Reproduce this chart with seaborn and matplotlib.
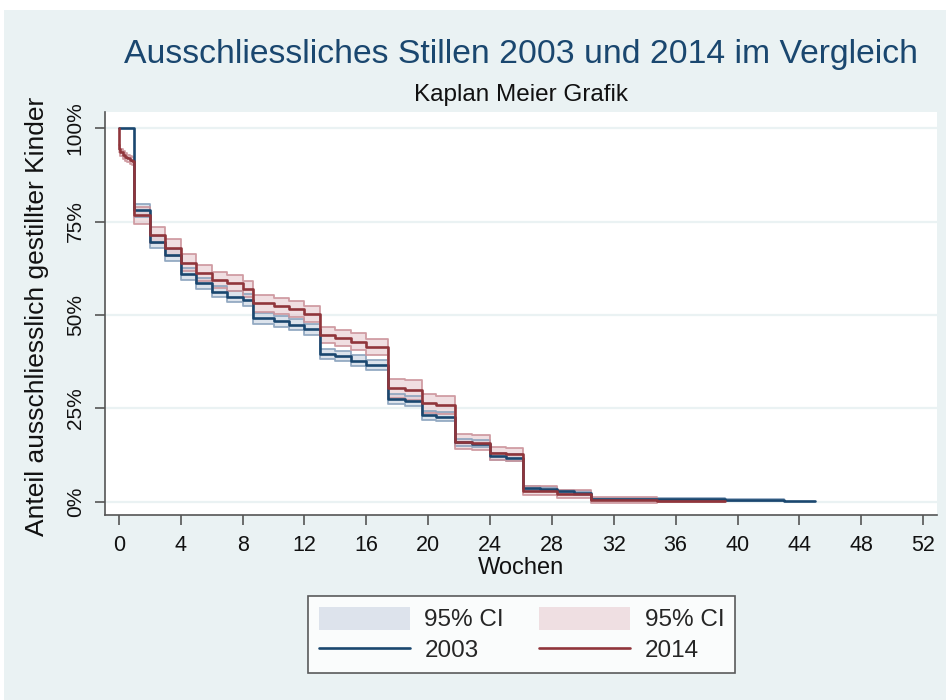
import numpy as np
import pandas as pd
import matplotlib
matplotlib.use("Agg")
import matplotlib.pyplot as plt
from matplotlib.patches import Patch, Rectangle
from matplotlib.lines import Line2D
import seaborn as sns

# ---- data ----
times_2003 = [0, 1, 2, 3, 4, 5, 6, 7, 8, 8.7, 10, 11, 12, 13, 14, 15, 16, 17.4, 18.5, 19.6, 20.5,
              21.7, 22.8, 24, 25, 26.1, 27.2, 28.3, 29.4, 30.5, 39.2, 43, 45]
surv_2003 = [100, 78, 69.6, 66, 61, 58.5, 56.2, 54.9, 54, 49.1, 48.3, 47.4, 46.2, 39.6, 39.0, 37.8, 36.6,
             27.6, 27.0, 23.2, 22.8, 15.9, 15.6, 12.2, 11.8, 3.7, 3.4, 2.8, 2.4, 0.8, 0.6, 0.2, 0.2]
ci_half_2003 = [0, 1.8, 1.6, 1.6, 1.6, 1.5, 1.5, 1.5, 1.5, 1.5, 1.5, 1.5, 1.5, 1.4, 1.4, 1.4, 1.4,
                1.3, 1.3, 1.2, 1.2, 1.0, 1.0, 0.9, 0.9, 0.5, 0.5, 0.5, 0.5, 0.3, 0.3, 0, 0]

times_2014 = [0, 0.02, 0.1, 0.25, 0.4, 0.55, 0.7, 0.85, 1, 2, 3, 4, 5, 6, 7, 8, 8.7, 10, 11, 12, 13, 14, 15, 16,
              17.4, 18.5, 19.6, 20.5, 21.7, 22.8, 24, 25, 26.1, 28.3, 30.5, 34.8, 39.2]
surv_2014 = [100, 94.5, 93.5, 92.8, 92.3, 91.9, 91.5, 91.2, 76.7, 71.4, 68, 64, 61.2, 59.4, 58.6, 56.9,
             53.1, 52.4, 51.6, 50.3, 44.7, 43.8, 42.9, 41.5, 30.4, 29.9, 26.4, 25.9, 16.1, 15.8, 13.0, 12.7,
             3.0, 2.1, 0.6, 0.15, 0.15]
ci_half_2014 = [0, 1.0, 1.0, 1.0, 1.0, 1.0, 1.0, 1.0, 2.3, 2.2, 2.2, 2.2, 2.2, 2.2, 2.2, 2.2,
                2.2, 2.2, 2.2, 2.2, 2.2, 2.2, 2.2, 2.2, 2.6, 2.6, 2.5, 2.5, 2.0, 2.0, 1.8, 1.8,
                1.2, 1.0, 0.8, 0.2, 0.2]

x_ticks = list(range(0, 53, 4))
y_ticks = [0, 25, 50, 75, 100]
y_ticklabels = ["0%", "25%", "50%", "75%", "100%"]
legend_labels = ["95% CI", "2003", "95% CI", "2014"]

title = "Ausschliessliches Stillen 2003 und 2014 im Vergleich"
subtitle = "Kaplan Meier Grafik"
xlabel = "Wochen"
ylabel = "Anteil ausschliesslich gestillter Kinder"

# ---- style ----
BG = "#eaf2f3"
BLUE = "#1a476f"
RED = "#90353b"
BLUE_FILL = "#c6d1e0"
RED_FILL = "#e6c8cd"
BLUE_EDGE = "#8aa2bd"
RED_EDGE = "#cc949b"

sns.set_theme(style="white")
plt.rcParams["font.family"] = ["Liberation Sans", "DejaVu Sans"]

fig = plt.figure(figsize=(9.46, 7.0), dpi=100, facecolor="white")
fig.patches.append(Rectangle((4 / 946, 0), 1, 1 - 10 / 700, transform=fig.transFigure,
                             facecolor=BG, edgecolor="none", zorder=-10))

ax = fig.add_axes([105 / 946, 1 - 515 / 700, (937 - 105) / 946, (515 - 112) / 700])
ax.set_facecolor("white")

df03 = pd.DataFrame({"t": times_2003, "s": surv_2003, "h": ci_half_2003})
df14 = pd.DataFrame({"t": times_2014, "s": surv_2014, "h": ci_half_2014})

for d, fc, ec in [(df03, BLUE_FILL, BLUE_EDGE), (df14, RED_FILL, RED_EDGE)]:
    mask = d["h"] > 0
    lo = (d["s"] - d["h"]).where(mask)
    hi = (d["s"] + d["h"]).where(mask)
    ax.fill_between(d["t"], lo, hi, step="post", facecolor=fc, alpha=0.6, edgecolor="none", zorder=2)
    ax.step(d["t"], lo, where="post", color=ec, lw=1.3, alpha=0.9, zorder=2.5)
    ax.step(d["t"], hi, where="post", color=ec, lw=1.3, alpha=0.9, zorder=2.5)

sns.lineplot(data=df03, x="t", y="s", ax=ax, color=BLUE, lw=1.9, drawstyle="steps-post",
             estimator=None, sort=False, zorder=3)
sns.lineplot(data=df14, x="t", y="s", ax=ax, color=RED, lw=1.9, drawstyle="steps-post",
             estimator=None, sort=False, zorder=3.2)

ax.set_xlim(-0.9, 52.9)
ax.set_ylim(-3.5, 104.3)
ax.set_xticks(x_ticks)
ax.set_yticks(y_ticks)
ax.set_yticklabels(y_ticklabels, rotation=90, va="center")
ax.yaxis.grid(True, color=BG, lw=1.6)
ax.xaxis.grid(False)
ax.set_axisbelow(True)

for s in ["top", "right"]:
    ax.spines[s].set_visible(False)
for s in ["left", "bottom"]:
    ax.spines[s].set_color("#555555")
    ax.spines[s].set_linewidth(1.2)

ax.tick_params(axis="x", which="major", direction="out", length=7.5, width=1.2,
               color="#555555", labelsize=15.5, labelcolor="#111111", pad=7, bottom=True)
ax.tick_params(axis="y", which="major", direction="out", length=7.5, width=1.2,
               color="#555555", labelsize=15, labelcolor="#111111", pad=7, left=True)

ax.set_xlabel(xlabel, fontsize=17, color="#111111")
ax.xaxis.label.set_verticalalignment("center")
ax.xaxis.set_label_coords(0.5, (515 - 568.5) / 403)
ax.set_ylabel(ylabel, fontsize=19, color="#111111")
ax.yaxis.label.set_verticalalignment("center")
ax.yaxis.set_label_coords((37.5 - 105) / 832, (515 - 316) / 403)

fig.text(521 / 946, 1 - 55 / 700, title, ha="center", va="center", fontsize=24.3, color=BLUE)
fig.text(521 / 946, 1 - 95 / 700, subtitle, ha="center", va="center", fontsize=17.5, color="#111111")

handles = [Patch(facecolor="#dde3ec", edgecolor="none"),
           Line2D([0], [0], color=BLUE, lw=1.9),
           Patch(facecolor="#efdfe2", edgecolor="none"),
           Line2D([0], [0], color=RED, lw=1.9)]
leg = fig.legend(handles, legend_labels, loc="center", bbox_to_anchor=(521.5 / 946, 1 - 634.5 / 700),
                 ncol=2, fontsize=17.5, frameon=True, fancybox=False, handlelength=3.75,
                 handleheight=1.1, columnspacing=1.45, handletextpad=0.6, borderpad=0.45,
                 labelspacing=0.25, borderaxespad=0)
leg.get_frame().set_edgecolor("#333333")
leg.get_frame().set_linewidth(1.2)
leg.get_frame().set_facecolor("white")

fig.savefig("out.png", dpi=100, facecolor=fig.get_facecolor())
